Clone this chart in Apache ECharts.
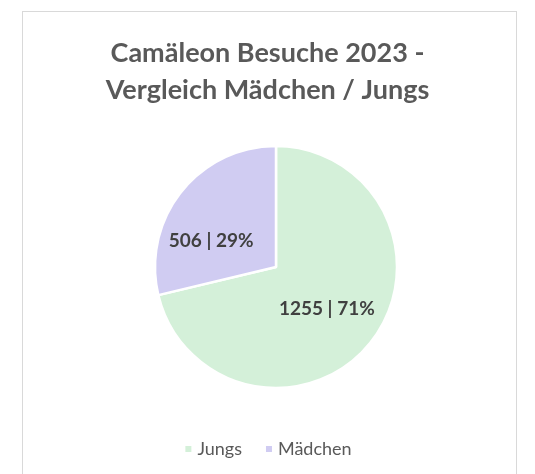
<!DOCTYPE html>
<html>
<head>
<meta charset="utf-8">
<style>
html,body{margin:0;padding:0;background:#fff;}
#frame{position:absolute;left:22px;top:11px;width:495px;height:480px;border:1px solid #d9d9d9;box-sizing:border-box;}
#main{position:absolute;left:0;top:0;width:535px;height:474px;}
</style>
<script src="https://cdn.jsdelivr.net/npm/echarts@6/dist/echarts.min.js"></script>
</head>
<body>
<div id="frame"></div>
<div id="main"></div>
<script>
const categories = ['Jungs', 'Mädchen'];
const visits = [1255, 506];
const colors = ['#d4f0d9', '#d0ccf2'];

let myChart = echarts.init(document.getElementById('main'));
myChart.setOption({
	color: colors,
	title: {
		text: 'Camäleon Besuche 2023 -\nVergleich Mädchen / Jungs',
		left: 'center',
		top: 30,
		textStyle: { fontFamily: 'Lato', fontSize: 27, fontWeight: 'bold', color: '#595959', lineHeight: 37 }
	},
	legend: {
		bottom: 11,
		left: 'center',
		itemWidth: 8,
		itemHeight: 8,
		itemGap: 22,
		icon: 'rect',
		textStyle: { fontFamily: 'Lato', fontSize: 18, color: '#595959' },
		data: categories
	},
	series: [{
		type: 'pie',
		center: [276, 267],
		radius: 121,
		startAngle: 90,
		clockwise: true,
		itemStyle: { borderColor: '#fff', borderWidth: 2.5 },
		label: {
			position: 'inside',
			fontFamily: 'Lato',
			fontSize: 19,
			fontWeight: 'bold',
			color: '#404040',
			formatter: p => p.value + ' | ' + Math.round(p.percent) + '%'
		},
		labelLine: { show: false },
		emphasis: { disabled: true },
		data: categories.map((name, i) => ({
			name: name,
			value: visits[i],
			label: i === 1 ? { offset: [-15, 13] } : { offset: [1, 3] }
		}))
	}]
});
</script>
</body>
</html>
